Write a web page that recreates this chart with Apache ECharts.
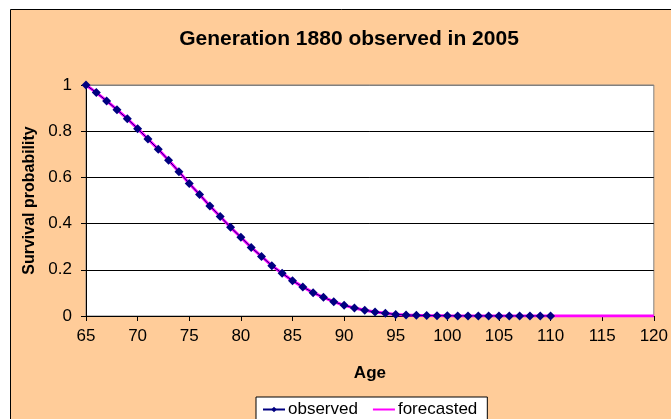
<!DOCTYPE html>
<html>
<head>
<meta charset="utf-8">
<script src="https://cdn.jsdelivr.net/npm/echarts@6/dist/echarts.min.js"></script>
<style>
	html, body { margin: 0; padding: 0; background: #fff; }
	#chart { width: 671px; height: 419px; }
</style>
</head>
<body>
<div id="chart"></div>
<script>
// ages 65..120
const ages = [];
for (let a = 65; a <= 120; a++) ages.push(a);

// observed survival probability, ages 65..110
const observed = [
	1.0, 0.967, 0.931, 0.893, 0.854, 0.811, 0.766, 0.722, 0.674, 0.625,
	0.574, 0.526, 0.476, 0.431, 0.384, 0.341, 0.297, 0.258, 0.218, 0.185,
	0.153, 0.126, 0.101, 0.081, 0.062, 0.046, 0.035, 0.025, 0.017, 0.012,
	0.007, 0.0045, 0.003, 0.002, 0.0013, 0.0008, 0.0005, 0.0003, 0.0002, 0.0001,
	0.0001, 0.00005, 0.00003, 0.00002, 0.00001, 0
];

// forecasted survival probability, ages 65..120
const forecasted = [
	1.0, 0.967, 0.931, 0.893, 0.854, 0.811, 0.766, 0.722, 0.674, 0.625,
	0.574, 0.526, 0.476, 0.431, 0.384, 0.341, 0.297, 0.258, 0.218, 0.185,
	0.153, 0.126, 0.101, 0.081, 0.062, 0.046, 0.035, 0.025, 0.017, 0.012,
	0.007, 0.0045, 0.003, 0.002, 0.0013, 0.0008, 0.0005, 0.0003, 0.0002, 0.0001,
	0.0001, 0.00005, 0.00003, 0.00002, 0.00001, 0,
	0, 0, 0, 0, 0, 0, 0, 0, 0, 0
];

const font = 'Arial, "Liberation Sans", sans-serif';

const chart = echarts.init(document.getElementById('chart'));

chart.setOption({
	backgroundColor: '#fff',
	animation: false,
	textStyle: { fontFamily: font },
	graphic: {
		elements: [{
			type: 'rect',
			z: -10,
			shape: { x: 10.5, y: 9.5, width: 700, height: 500 },
			style: { fill: '#FFCC99', stroke: '#000', lineWidth: 1 },
			silent: true
		}]
	},
	title: {
		text: 'Generation 1880 observed in 2005',
		left: 344,
		top: 24,
		textAlign: 'center',
		textStyle: { fontFamily: font, fontSize: 21, fontWeight: 'bold', color: '#000' }
	},
	legend: {
		left: 256,
		top: 397,
		padding: [4, 10, 8, 6],
		itemGap: 14,
		itemWidth: 22,
		itemHeight: 7,
		backgroundColor: '#fff',
		borderColor: '#000',
		borderWidth: 1,
		borderRadius: 0,
		textStyle: { fontFamily: font, fontSize: 17, color: '#000', padding: [0, 0, 0, -2] },
		data: [
			{ name: 'observed' },
			{ name: 'forecasted', itemStyle: { opacity: 0 } }
		]
	},
	grid: {
		left: 86,
		top: 85,
		right: 14,
		bottom: 103,
		show: true,
		backgroundColor: '#fff',
		borderColor: '#808080',
		borderWidth: 1
	},
	xAxis: {
		type: 'value',
		min: 65,
		max: 120,
		interval: 5,
		name: 'Age',
		nameLocation: 'middle',
		nameGap: 49,
		nameTextStyle: { fontFamily: font, fontSize: 17, fontWeight: 'bold', color: '#000' },
		axisLine: { show: true, onZero: false, lineStyle: { color: '#000', width: 1 } },
		axisTick: { show: true, inside: false, length: 5, lineStyle: { color: '#000' } },
		axisLabel: { margin: 12, fontFamily: font, fontSize: 17, color: '#000' },
		splitLine: { show: false }
	},
	yAxis: {
		type: 'value',
		min: 0,
		max: 1,
		interval: 0.2,
		name: 'Survival probability',
		nameLocation: 'middle',
		nameGap: 46,
		nameTextStyle: { fontFamily: font, fontSize: 16, fontWeight: 'bold', color: '#000' },
		axisLine: { show: true, lineStyle: { color: '#000', width: 1 } },
		axisTick: { show: true, inside: false, length: 5, lineStyle: { color: '#000' } },
		axisLabel: { margin: 14, fontFamily: font, fontSize: 17, color: '#000' },
		splitLine: {
			show: true,
			lineStyle: { color: ['#000', '#000', '#000', '#000', '#000', '#808080'], width: 1 }
		}
	},
	series: [
		{
			name: 'forecasted',
			type: 'line',
			data: ages.map((a, i) => [a, forecasted[i]]),
			symbol: 'none',
			lineStyle: { color: '#FF00FF', width: 3 },
			itemStyle: { color: '#FF00FF' },
			z: 2
		},
		{
			name: 'observed',
			type: 'line',
			data: observed.map((v, i) => [ages[i], v]),
			symbol: 'diamond',
			symbolSize: 9,
			lineStyle: { color: '#000080', width: 1 },
			itemStyle: { color: '#000080' },
			z: 3
		}
	]
});
</script>
</body>
</html>
